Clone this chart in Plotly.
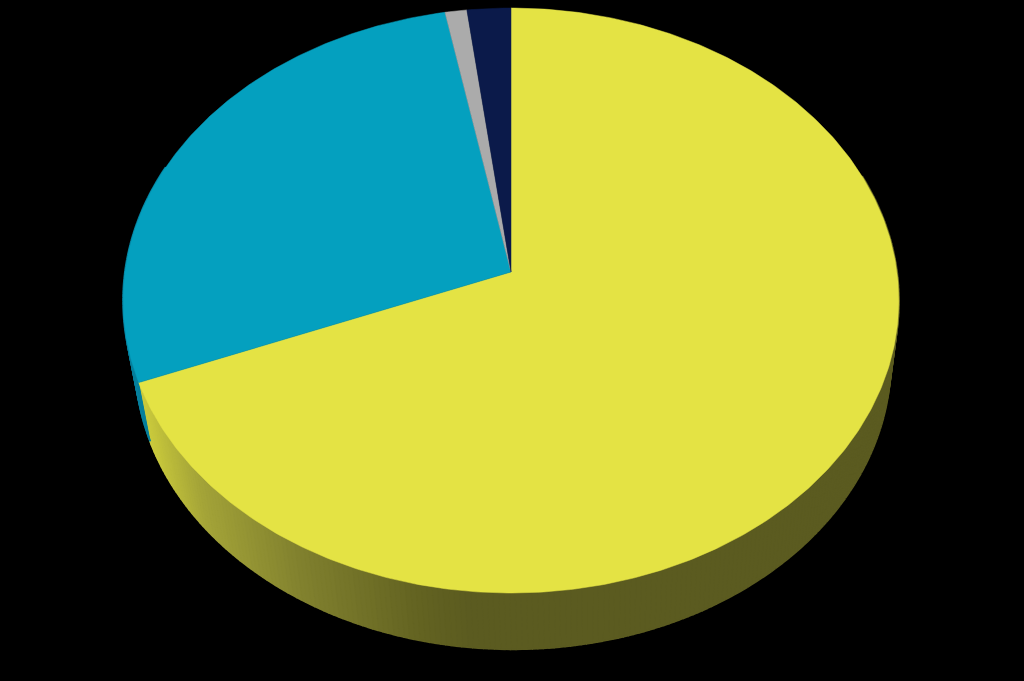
import numpy as np
import plotly.graph_objects as go

# slice shares, clockwise from 12 o'clock
slice_names = ["A", "B", "C", "D"]
slice_values = [69, 28, 1, 2]
slice_colors = ["#E4E344", "#04A0BF", "#ABABAB", "#0B1A4A"]

# side wall shading, goes dark left to right
wall_x = [130, 145, 200, 300, 420, 470, 900]
wall_yellow_r = [205, 200, 163, 128, 98, 91, 91]
wall_yellow_b = [62, 60, 56, 46, 33, 32, 32]
wall_blue = "#067F9C"

# tilted disc in page pixels
cx, cy = 511, 272
rx, ry = 386, 289.7
persp = 0.0975
base_cx, base_cy = 513, 333
base_sx, base_sy = 0.974, 0.985


def rim(deg, left=cx, top=cy, sx=1.0, sy=1.0):
    t = np.radians(deg)
    w = 1 + persp * np.cos(t)
    return left + rx * sx * np.sin(t) / w, top - ry * sy * np.cos(t) / w


fig = go.Figure()

# side wall first, the top face goes over it
stops = np.cumsum([0] + slice_values) / sum(slice_values) * 360
split = stops[1]
step = 0.75
for a in np.arange(70, 292, step):
    xt, yt = rim(np.array([a, a + step]))
    xb, yb = rim(np.array([a, a + step]), base_cx, base_cy, base_sx, base_sy)
    mid = xt.mean()
    if a >= split:
        col = wall_blue
    else:
        r = np.interp(mid, wall_x, wall_yellow_r)
        b = np.interp(mid, wall_x, wall_yellow_b)
        col = f"rgb({r:.0f},{r:.0f},{b:.0f})"
    fig.add_trace(go.Scatter(
        x=list(xt) + list(xb[::-1]), y=list(yt) + list(yb[::-1]),
        mode="lines", fill="toself", fillcolor=col,
        line=dict(color=col, width=2), hoverinfo="skip", showlegend=False))

# top face
for i, name in enumerate(slice_names):
    angles = np.linspace(stops[i], stops[i + 1], max(int(slice_values[i] * 6), 6))
    xs, ys = rim(angles)
    fig.add_trace(go.Scatter(
        x=[cx] + list(xs) + [cx], y=[cy] + list(ys) + [cy],
        mode="lines", fill="toself", fillcolor=slice_colors[i],
        line=dict(color=slice_colors[i], width=0.5),
        name=name, text=f"{name}: {slice_values[i]}%", hoverinfo="text", showlegend=False))

fig.update_layout(
    width=1024, height=681,
    margin=dict(l=0, r=0, t=0, b=0),
    paper_bgcolor="black", plot_bgcolor="black",
    xaxis=dict(range=[0, 1024], visible=False, fixedrange=True),
    yaxis=dict(range=[681, 0], visible=False, fixedrange=True),
)
# page margin would push the chart off by 8px
fig.write_html("out.html", config={"displayModeBar": False},
               post_script="document.body.style.margin='0';document.body.style.background='black';document.body.style.overflow='hidden';")
